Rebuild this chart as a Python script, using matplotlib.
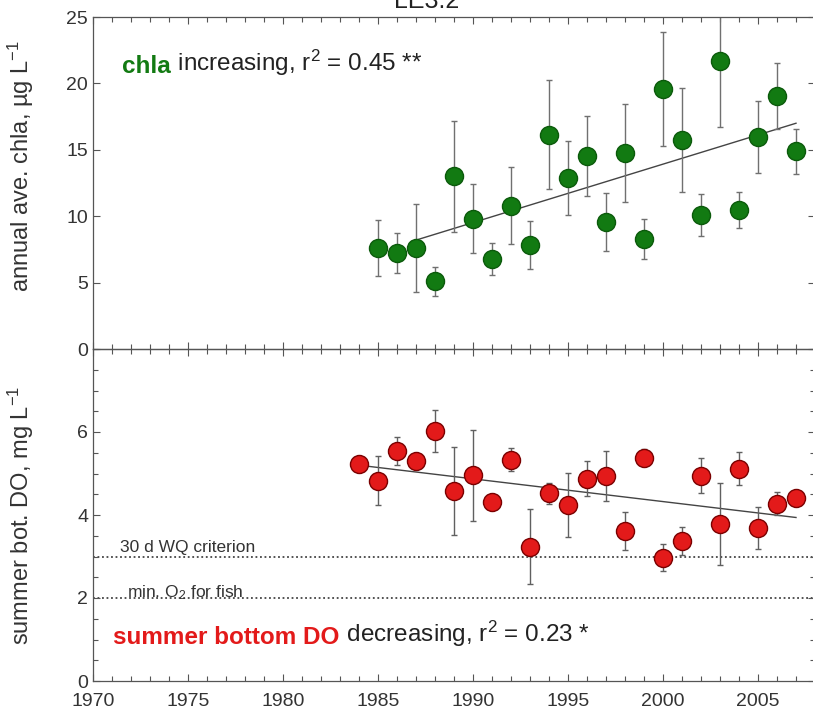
import numpy as np
import matplotlib.pyplot as plt
from matplotlib.ticker import MultipleLocator

plt.rcParams['font.family'] = ['Liberation Sans', 'DejaVu Sans']
plt.rcParams['mathtext.default'] = 'regular'

station = "LE3.2"

# annual average chla (ug/L) with error bars
chla_years = list(range(1985, 2008))
chla_mean = [7.6, 7.2, 7.6, 5.1, 13.0, 9.8, 6.75, 10.8, 7.85, 16.15, 12.9, 14.55,
             9.55, 14.75, 8.3, 19.55, 15.75, 10.1, 21.65, 10.45, 15.95, 19.05, 14.9]
chla_err = [2.1, 1.5, 3.3, 1.1, 4.2, 2.6, 1.2, 2.9, 1.8, 4.1, 2.8, 3.0,
            2.2, 3.7, 1.5, 4.3, 3.9, 1.6, 4.9, 1.35, 2.7, 2.5, 1.7]
chla_trend_years = [1987, 2007]
chla_trend = [8.2, 17.0]

# summer bottom DO (mg/L)
do_years = list(range(1984, 2008))
do_mean = [5.24, 4.83, 5.54, 5.31, 6.02, 4.59, 4.96, 4.31, 5.33, 3.24, 4.52, 4.25,
           4.87, 4.94, 3.62, 5.38, 2.97, 3.37, 4.95, 3.78, 5.12, 3.68, 4.27, 4.40]
do_err = [0.05, 0.6, 0.33, 0.1, 0.5, 1.06, 1.1, 0.1, 0.28, 0.9, 0.26, 0.77,
          0.42, 0.6, 0.46, 0.2, 0.32, 0.33, 0.42, 0.98, 0.4, 0.51, 0.28, 0.1]
do_trend_years = [1984, 2007]
do_trend = [5.2, 3.94]

wq_criterion = 3
fish_min = 2

green = '#127a12'
red = '#e31a1a'

W, H = 813, 717
fig = plt.figure(figsize=(W / 100, H / 100), dpi=100)
ax1 = fig.add_axes([93 / W, 1 - 349 / H, 722 / W, 332 / H])
ax2 = fig.add_axes([93 / W, 1 - 681 / H, 722 / W, 332 / H])

# top panel
ax1.errorbar(chla_years, chla_mean, yerr=chla_err, fmt='none', ecolor='#707070',
             elinewidth=1, capsize=2.5, capthick=1, zorder=2)
ax1.plot(chla_trend_years, chla_trend, color='#444444', lw=1, zorder=1)
ax1.plot(chla_years, chla_mean, 'o', ms=13, mfc=green, mec='#0b5a0b', mew=1, zorder=3)
ax1.set_ylim(0, 25)
ax1.yaxis.set_major_locator(MultipleLocator(5))

# bottom panel
ax2.axhline(wq_criterion, color='#444444', lw=1.3, ls=(0, (1, 1.5)), zorder=1)
ax2.axhline(fish_min, color='#444444', lw=1.3, ls=(0, (1, 1.5)), zorder=1)
ax2.errorbar(do_years, do_mean, yerr=do_err, fmt='none', ecolor='#606060',
             elinewidth=1, capsize=2.5, capthick=1, zorder=2)
ax2.plot(do_trend_years, do_trend, color='#444444', lw=1, zorder=1)
ax2.plot(do_years, do_mean, 'o', ms=13, mfc=red, mec='#7a0000', mew=1, zorder=3)
ax2.set_ylim(0, 8)
ax2.yaxis.set_minor_locator(MultipleLocator(0.5))
ax2.set_yticks([0, 2, 4, 6])

for ax in (ax1, ax2):
    ax.set_xlim(1970, 2008)
    ax.xaxis.set_major_locator(MultipleLocator(5))
    ax.xaxis.set_minor_locator(MultipleLocator(1))
    ax.tick_params(which='both', direction='in', top=True, right=True,
                   color='#555555', labelsize=14, labelcolor='#333333', width=0.8)
    ax.tick_params(which='major', length=5)
    ax.tick_params(which='minor', length=3.5)
    for s in ax.spines.values():
        s.set_color('#555555')
        s.set_linewidth(0.9)
    ax.set_facecolor('none')

ax1.tick_params(labelbottom=False)
ax2.tick_params(axis='x', pad=9)

ax1.set_ylabel('annual ave. chla, µg L$^{-1}$', fontsize=17, color='#333333')
ax2.set_ylabel('summer bot. DO, mg L$^{-1}$', fontsize=17, color='#333333')
ax1.yaxis.set_label_coords(-0.079, 0.55)
ax2.yaxis.set_label_coords(-0.079, 0.5)

# annotations
t = ax1.text(0.040, 0.815, 'chla', color=green, fontsize=17.5, weight='bold',
             transform=ax1.transAxes, va='bottom')
ax1.annotate(' increasing, r$^2$ = 0.45 **', xy=(1, 0), xycoords=t,
             va='bottom', fontsize=17.5, color='#222222')

t = ax2.text(0.028, 0.095, 'summer bottom DO', color=red, fontsize=17.5, weight='bold',
             transform=ax2.transAxes, va='bottom')
ax2.annotate(' decreasing, r$^2$ = 0.23 *', xy=(1, 0), xycoords=t,
             va='bottom', fontsize=17.5, color='#222222')

ax2.text(1971.4, wq_criterion + 0.1, '30 d WQ criterion', fontsize=12.5, color='#333333')
ax2.text(1971.8, fish_min + 0.02, 'min. O$_2$ for fish', fontsize=12.5, color='#333333')

fig.text(427 / W, 1 - 8 / H, station, fontsize=18, ha='center', va='baseline',
         color='#222222')

fig.savefig('out.png', dpi=100)
